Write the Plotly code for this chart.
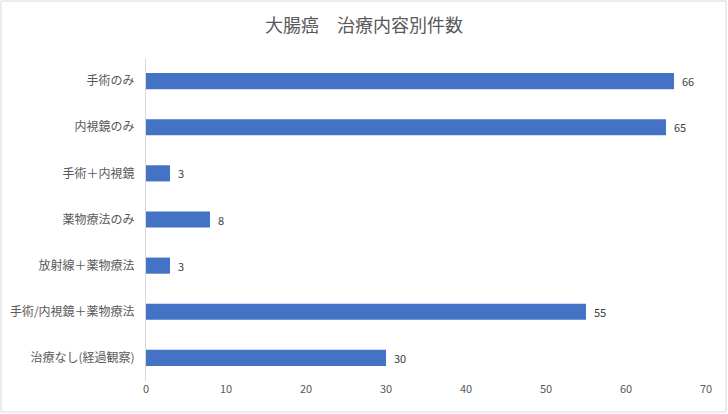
import plotly.graph_objects as go

TITLE = "大腸癌　治療内容別件数"
categories = [
    "手術のみ",
    "内視鏡のみ",
    "手術＋内視鏡",
    "薬物療法のみ",
    "放射線＋薬物療法",
    "手術/内視鏡＋薬物療法",
    "治療なし(経過観察)",
]
counts = [66, 65, 3, 8, 3, 55, 30]
x_ticks = [0, 10, 20, 30, 40, 50, 60, 70]

W, H = 728, 414
ML, MR, MT, MB = 146, 22, 58, 33
FONT = "Noto Sans CJK JP"

fig = go.Figure(
    go.Bar(
        x=counts,
        y=categories,
        orientation="h",
        marker=dict(color="#4472C4", line=dict(width=0)),
        text=counts,
        texttemplate="  %{x}",
        textposition="outside",
        textfont=dict(size=11, color="#404040"),
        cliponaxis=False,
        hoverinfo="skip",
    )
)

# outer chart border, pixel edges converted to paper coords
pw, ph = W - ML - MR, H - MT - MB
fig.add_shape(
    type="rect",
    xref="paper",
    yref="paper",
    x0=(1 - ML) / pw,
    x1=(W - 2 - ML) / pw,
    y0=(2 - MB) / ph,
    y1=(H - MB - 1) / ph,
    line=dict(color="#d9d9d9", width=1),
    layer="below",
)

fig.update_layout(
    width=W,
    height=H,
    margin=dict(l=ML, r=MR, t=MT, b=MB),
    paper_bgcolor="white",
    plot_bgcolor="white",
    font=dict(family=FONT, size=12, color="#595959"),
    title=dict(
        text=TITLE,
        x=0.5,
        xref="container",
        xanchor="center",
        y=1 - 26 / H,
        yanchor="middle",
        font=dict(size=18, color="#595959", family=FONT),
    ),
    bargap=0.65,
    showlegend=False,
)
fig.update_xaxes(
    range=[0, 70],
    tickvals=x_ticks,
    showgrid=False,
    zeroline=False,
    showline=False,
    ticks="",
    automargin=False,
    tickfont=dict(size=11, color="#595959"),
    fixedrange=True,
)
fig.update_yaxes(
    autorange="reversed",
    showgrid=False,
    zeroline=False,
    showline=True,
    linecolor="#d9d9d9",
    linewidth=1,
    ticks="",
    automargin=False,
    ticklabelstandoff=8,
    tickfont=dict(size=12, color="#595959"),
    fixedrange=True,
)

# drop the default 8px body margin so the figure sits at the window corner
fig.write_html(
    "out.html",
    config={"displayModeBar": False},
    post_script="document.body.style.margin='0';",
)
